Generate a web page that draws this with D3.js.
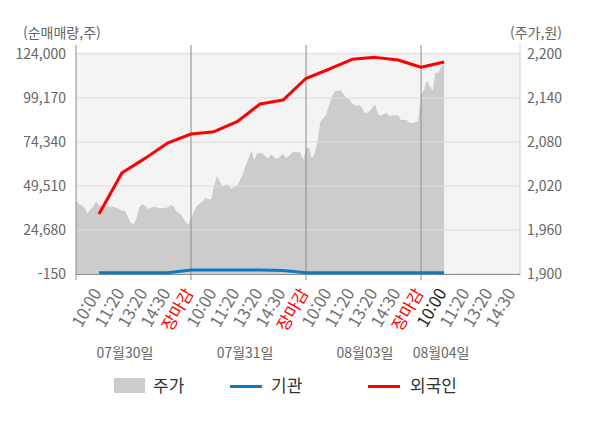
<!DOCTYPE html>
<html lang="ko">
<head>
  <meta charset="UTF-8" />
  <title>순매매량 / 주가</title>
  <script src="https://d3js.org/d3.v7.min.js"></script>
  <style>
    body { margin: 0; background: #fff; font-family: "Noto Sans CJK KR", "Noto Sans", sans-serif; }
    .axis text { fill: #666; font-size: 14px; font-family: "Noto Sans CJK KR", "Noto Sans", sans-serif; }
    .axis path, .axis line { display: none; }
  </style>
</head>
<body>
  <svg width="600" height="428"></svg>

  <script>
    // x축 눈금 (하루 5칸, 마지막 날은 14:30까지)
    const tickLabels = [
      "10:00", "11:20", "13:20", "14:30", "장마감",
      "10:00", "11:20", "13:20", "14:30", "장마감",
      "10:00", "11:20", "13:20", "14:30", "장마감",
      "10:00", "11:20", "13:20", "14:30"
    ];
    const dates = ["07월30일", "07월31일", "08월03일", "08월04일"];
    const dateAt = [1.13, 6.35, 11.56, 14.87];
    const currentTick = 15;

    // 순매매량 (주), 눈금마다 한 점
    const foreign = [33700, 57000, 65100, 73900, 78850, 80150, 85800, 95800, 98000,
                     110300, 115400, 121000, 122100, 120600, 116500, 119500];
    const institution = [600, 600, 600, 600, 2100, 2100, 2100, 2100, 1800,
                         600, 600, 600, 600, 600, 600, 600];

    // 주가 (원), 하루 40개 표본
    const price0730 = [2000, 1995, 1994, 1990, 1983, 1988, 1992, 1999, 1994, 1992,
                       1991, 1993, 1991, 1992, 1990, 1989, 1986, 1986, 1978, 1970,
                       1968, 1975, 1991, 1995, 1993, 1989, 1990, 1992, 1991, 1990,
                       1990, 1990, 1991, 1994, 1992, 1985, 1983, 1978, 1972, 1967];
    const price0731 = [1976, 1985, 1993, 1996, 1999, 2004, 2002, 2002, 2020, 2034,
                       2026, 2019, 2022, 2022, 2016, 2019, 2020, 2028, 2036, 2048,
                       2058, 2068, 2055, 2065, 2065, 2064, 2060, 2058, 2063, 2059,
                       2057, 2060, 2064, 2058, 2061, 2065, 2067, 2066, 2066, 2055];
    const price0803 = [2072, 2072, 2058, 2064, 2080, 2108, 2112, 2117, 2130, 2142,
                       2149, 2150, 2151, 2145, 2140, 2139, 2133, 2130, 2130, 2129,
                       2122, 2119, 2122, 2126, 2131, 2118, 2116, 2118, 2120, 2115,
                       2116, 2116, 2116, 2110, 2110, 2110, 2106, 2106, 2107, 2109];
    const price0804 = [2145, 2151, 2164, 2156, 2150, 2175, 2174, 2183, 2186];

    const volTicks = [-150, 24680, 49510, 74340, 99170, 124000];
    const priceTicks = [1900, 1960, 2020, 2080, 2140, 2200];

    const svg = d3.select("svg");
    const plotLeft = 76, plotRight = 520, plotTop = 54, plotBottom = 274;

    const x = d3.scaleLinear().domain([-1, 18.3]).range([plotLeft, plotRight]);
    const yVol = d3.scaleLinear().domain([-150, 124000]).range([plotBottom, plotTop]);
    const yPrice = d3.scaleLinear().domain([1900, 2200]).range([plotBottom, plotTop]);
    const fmt = v => d3.format(",")(v).replace("−", "-");

    // 배경
    svg.append("rect")
      .attr("x", plotLeft).attr("y", plotTop - 2)
      .attr("width", plotRight - plotLeft).attr("height", plotBottom - plotTop + 2)
      .attr("fill", "#f4f4f4");

    // 주가 영역
    const priceData = [];
    [price0730, price0731, price0803, price0804].forEach((arr, d) => {
      arr.forEach((p, i) => priceData.push({ t: 5 * d - 1 + i * 0.125, p }));
    });
    svg.append("path")
      .datum(priceData)
      .attr("fill", "#cccccc")
      .attr("d", d3.area()
        .x(d => x(d.t))
        .y0(plotBottom)
        .y1(d => yPrice(d.p)));

    // 가로 격자
    svg.append("g").selectAll("line")
      .data(volTicks)
      .enter().append("line")
      .attr("x1", plotLeft).attr("x2", plotRight)
      .attr("y1", d => yVol(d)).attr("y2", d => yVol(d))
      .attr("stroke", "#dcdcdc").attr("stroke-width", 1);

    // 날짜 구분선
    svg.append("g").selectAll("line")
      .data([4, 9, 14])
      .enter().append("line")
      .attr("x1", d => x(d)).attr("x2", d => x(d))
      .attr("y1", 45).attr("y2", plotBottom + 6)
      .attr("stroke", "#8c8c8c").attr("stroke-width", 1);

    svg.append("line")
      .attr("x1", plotLeft).attr("x2", plotLeft).attr("y1", 45).attr("y2", plotBottom + 6)
      .attr("stroke", "#8c8c8c");
    svg.append("line")
      .attr("x1", plotRight).attr("x2", plotRight).attr("y1", 45).attr("y2", plotBottom + 2)
      .attr("stroke", "#cfcfcf");
    svg.append("line")
      .attr("x1", plotLeft).attr("x2", plotRight).attr("y1", plotBottom + 0.5).attr("y2", plotBottom + 0.5)
      .attr("stroke", "#8c8c8c");

    // 기관, 외국인
    const line = d3.line().x((d, i) => x(i)).y(d => yVol(d));
    svg.append("path")
      .datum(institution)
      .attr("fill", "none").attr("stroke", "#0a7bc8").attr("stroke-width", 3)
      .attr("d", line);
    svg.append("path")
      .datum(foreign)
      .attr("fill", "none").attr("stroke", "#ff0000").attr("stroke-width", 3)
      .attr("stroke-linejoin", "round")
      .attr("d", line);

    // 축
    svg.append("g")
      .attr("class", "axis")
      .attr("transform", `translate(${plotLeft - 10},0)`)
      .call(d3.axisLeft(yVol).tickValues(volTicks).tickFormat(fmt).tickSize(0).tickPadding(0));
    svg.append("g")
      .attr("class", "axis")
      .attr("transform", `translate(${plotRight + 7},0)`)
      .call(d3.axisRight(yPrice).tickValues(priceTicks).tickFormat(fmt).tickSize(0).tickPadding(0));

    svg.append("text")
      .attr("x", 23).attr("y", 38)
      .attr("fill", "#666").attr("font-size", 14)
      .text("(순매매량,주)");
    svg.append("text")
      .attr("x", 562).attr("y", 38)
      .attr("text-anchor", "end")
      .attr("fill", "#666").attr("font-size", 14)
      .text("(주가,원)");

    // x축 눈금 글자
    svg.append("g").selectAll("text")
      .data(tickLabels)
      .enter().append("text")
      .attr("transform", (d, i) => `translate(${x(i) - 2},${plotBottom + 16}) rotate(-60)`)
      .attr("text-anchor", "end")
      .attr("dy", "0.35em")
      .attr("font-size", 16.5)
      .attr("fill", (d, i) => d === "장마감" ? "#ff0000" : (i === currentTick ? "#222" : "#707070"))
      .text(d => d);

    svg.append("g").selectAll("text")
      .data(dates)
      .enter().append("text")
      .attr("x", (d, i) => x(dateAt[i]))
      .attr("y", 358)
      .attr("text-anchor", "middle")
      .attr("font-size", 14)
      .attr("fill", "#666")
      .text(d => d);

    // 범례
    const legend = svg.append("g").attr("font-size", 17).attr("fill", "#333");
    legend.append("rect").attr("x", 114).attr("y", 378).attr("width", 31).attr("height", 15).attr("fill", "#cccccc");
    legend.append("text").attr("x", 153).attr("y", 392).text("주가");
    legend.append("line").attr("x1", 230).attr("x2", 262).attr("y1", 386.5).attr("y2", 386.5)
      .attr("stroke", "#0a7bc8").attr("stroke-width", 3);
    legend.append("text").attr("x", 271).attr("y", 392).text("기관");
    legend.append("line").attr("x1", 368).attr("x2", 400).attr("y1", 386.5).attr("y2", 386.5)
      .attr("stroke", "#ff0000").attr("stroke-width", 3);
    legend.append("text").attr("x", 410).attr("y", 392).text("외국인");
  </script>
</body>
</html>
